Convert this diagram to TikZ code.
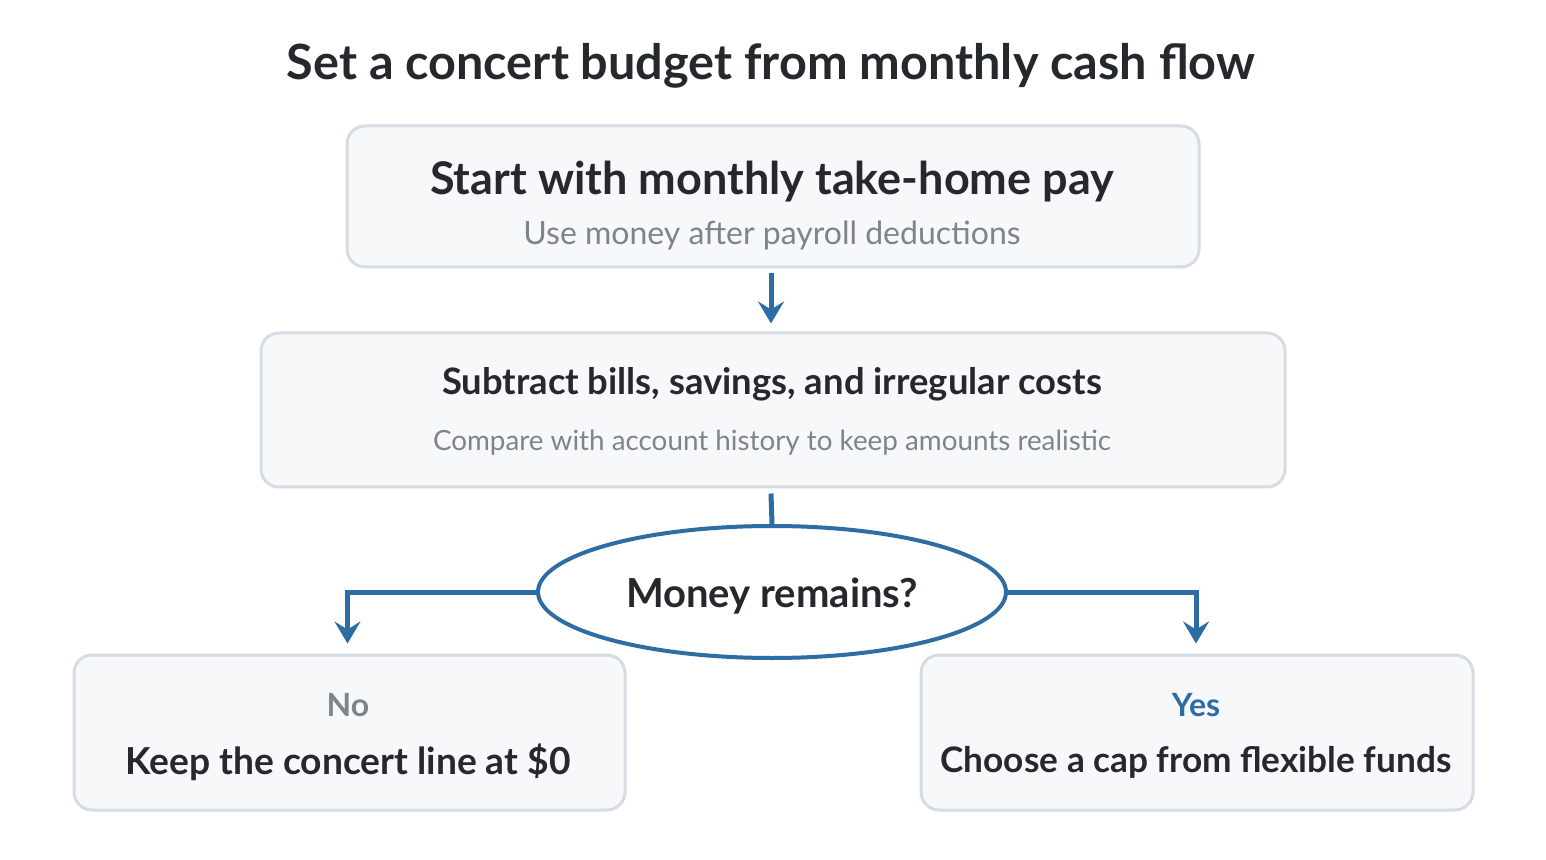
\documentclass[tikz,border=0pt]{standalone}
\usepackage{fontspec}
\setmainfont{Lato}
\usetikzlibrary{calc, positioning, shapes.geometric, arrows.meta}
\definecolor{flowblue}{HTML}{2E6DA4}
\definecolor{boxline}{HTML}{D5DCE3}
\definecolor{boxfill}{HTML}{F7F8FA}
\definecolor{inkdark}{HTML}{25282C}
\definecolor{inkgray}{HTML}{7D848C}
\tikzset{
  % Set arrowhead
  >={Stealth[length=11pt, width=13pt, inset=4pt]},
  % Step box
  bnode/.style={draw=boxline, fill=boxfill, line width=1.5pt,
    rounded corners=9pt, inner sep=0pt},
  % Decision node
  dnode/.style={draw=flowblue, fill=white, shape=ellipse, line width=2pt,
    inner sep=0pt},
  % Texts
  headtxt/.style={font=\bfseries\fontsize{24}{28}\selectfont, text=inkdark},
  subtxt/.style={font=\fontsize{16}{19}\selectfont, text=inkgray},
  % Connectors
  q->/.style={->, draw=flowblue, line width=2.5pt},
  q-/.style={-, draw=flowblue, line width=2.5pt},
}

\begin{document}
\begin{tikzpicture}[x=0.5pt, y=-0.5pt]
  \useasboundingbox (0,0) rectangle (1546,860);

  \node[headtxt, font=\bfseries\fontsize{24.3}{28}\selectfont] (title) at (771,66) {Set a concert budget from monthly cash flow};

  % Steps
  \node[bnode, minimum width=426pt, minimum height=70.5pt] (pay) at (773,196.5) {};
  \node[headtxt, font=\bfseries\fontsize{22.5}{26}\selectfont] (payh) at (772,182) {Start with monthly take-home pay};
  \node[subtxt] (pays) at (772,235) {Use money after payroll deductions};

  \node[bnode, minimum width=512pt, minimum height=77pt] (bills) at (773,410) {};
  \node[headtxt, font=\bfseries\fontsize{18.2}{21}\selectfont] (billsh) at (772,384) {Subtract bills, savings, and irregular costs};
  \node[subtxt, font=\fontsize{13.9}{16}\selectfont] (billss) at (772,443) {Compare with account history to keep amounts realistic};

  % Decision
  \node[dnode, minimum width=234pt, minimum height=66pt] (remain) at (772,592) {};
  \node[headtxt, font=\bfseries\fontsize{20}{24}\selectfont] (remainh) at (772,596) {Money remains?};

  % Outcomes
  \node[bnode, minimum width=275.5pt, minimum height=77.5pt] (no) at (349.5,732.5) {};
  \node[headtxt, font=\bfseries\fontsize{16}{19}\selectfont, text=inkgray] (noh) at (348,705) {No};
  \node[headtxt, font=\bfseries\fontsize{18.6}{22}\selectfont] (nom) at (348,762) {Keep the concert line at \$0};

  \node[bnode, minimum width=276pt, minimum height=77.5pt] (yes) at (1197,732.5) {};
  \node[headtxt, font=\bfseries\fontsize{16}{19}\selectfont, text=flowblue] (yesh) at (1196,705) {Yes};
  \node[headtxt, font=\bfseries\fontsize{17.6}{21}\selectfont] (yesm) at (1196,762) {Choose a cap from flexible funds};

  % Connectors
  \draw[q->] ($(pay.south)+(-2,5)$) -- ($(bills.north)+(-2,-8)$);
  \draw[q-] ($(bills.south)+(-2,5)$) -- (remain.north);
  \draw[q->] (remain.west) -| ($(no.north)+(-2,-10)$);
  \draw[q->] (remain.east) -| ($(yes.north)+(-1,-10)$);
\end{tikzpicture}
\end{document}
